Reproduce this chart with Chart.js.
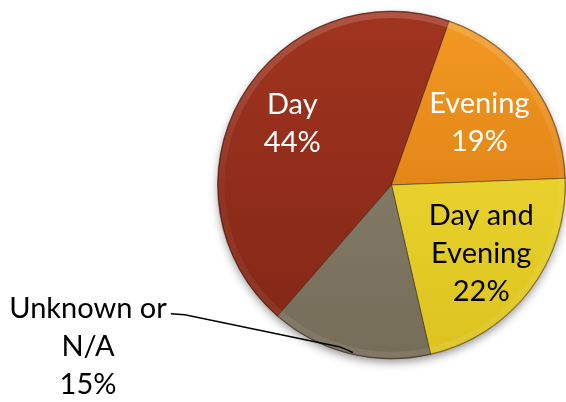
<!DOCTYPE html>
<html>
<head>
<meta charset="utf-8">
<script src="https://cdn.jsdelivr.net/npm/chart.js@4/dist/chart.umd.min.js"></script>
<style>
  html, body { margin: 0; padding: 0; background: #fff; }
  #wrap { width: 566px; height: 402px; position: relative; }
</style>
</head>
<body>
<div id="wrap"><canvas id="pie"></canvas></div>
<script>
// Data
const categories = ['Day', 'Evening', 'Day and Evening', 'Unknown or N/A'];
const shares = [44, 19, 22, 15];
const labelLines = [['Day'], ['Evening'], ['Day and', 'Evening'], ['Unknown or', 'N/A']];

// Look
const topColors = ['#a0341f', '#f39a22', '#f4e03a', '#8d8571'];
const bottomColors = ['#812616', '#d2720f', '#dcc21e', '#766d59'];
const textColors = ['#ffffff', '#ffffff', '#000000', '#000000'];
const FONT = '29px Lato';
const LINE_H = 38;

function sliceFill(ctx) {
    const chart = ctx.chart;
    const area = chart.chartArea;
    const i = ctx.dataIndex;
    if (!area) return topColors[i];
    const g = chart.ctx.createLinearGradient(0, area.top, 0, area.bottom);
    g.addColorStop(0, topColors[i]);
    g.addColorStop(1, bottomColors[i]);
    return g;
}

// soft shadow under the pie
const shadowPlugin = {
    id: 'shadow',
    beforeDatasetsDraw(chart) {
        const arc = chart.getDatasetMeta(0).data[0];
        if (!arc) return;
        const c = chart.ctx;
        c.save();
        c.shadowColor = 'rgba(0,0,0,0.45)';
        c.shadowBlur = 10;
        c.shadowOffsetY = 4;
        c.beginPath();
        c.arc(arc.x, arc.y, arc.outerRadius - 1, 0, Math.PI * 2);
        c.fillStyle = '#888';
        c.fill();
        c.restore();
    }
};

// rim bevel + labels
const labelPlugin = {
    id: 'labels',
    afterDatasetsDraw(chart) {
        const arcs = chart.getDatasetMeta(0).data;
        const c = chart.ctx;
        const cx = arcs[0].x, cy = arcs[0].y, R = arcs[0].outerRadius;

        c.save();
        c.beginPath();
        c.arc(cx, cy, R, 0, Math.PI * 2);
        c.clip();
        const g = c.createLinearGradient(0, cy - R, 0, cy + R);
        g.addColorStop(0, 'rgba(255,255,255,0.16)');
        g.addColorStop(0.5, 'rgba(255,255,255,0.03)');
        g.addColorStop(1, 'rgba(255,255,255,0.08)');
        c.strokeStyle = g;
        c.lineWidth = 6;
        c.beginPath();
        c.arc(cx, cy, R - 4, 0, Math.PI * 2);
        c.stroke();
        c.strokeStyle = 'rgba(0,0,0,0.22)';
        c.lineWidth = 2;
        c.beginPath();
        c.arc(cx, cy, R, 0, Math.PI * 2);
        c.stroke();
        c.restore();

        c.save();
        c.font = FONT;
        c.textAlign = 'center';
        c.textBaseline = 'alphabetic';
        const inside = [[-6, -8, 0.62], [1, 1, 0.62], [4, 2.5, 0.62]];
        arcs.forEach((arc, i) => {
            const mid = (arc.startAngle + arc.endAngle) / 2;
            const lines = labelLines[i].concat([shares[i] + '%']);
            let bx, by;
            if (i < 3) {
                const [nx, ny, f] = inside[i];
                bx = cx + Math.cos(mid) * R * f + nx;
                by = cy + Math.sin(mid) * R * f + ny;
            } else {
                // outside label with leader line
                const a = arc.startAngle + (arc.endAngle - arc.startAngle) * 0.48;
                const ex = cx + Math.cos(a) * (R - 2);
                const ey = cy + Math.sin(a) * (R - 2);
                bx = ex - 265;
                by = ey - 7;
                const w = c.measureText(lines[0]).width;
                const firstBase = by - (lines.length - 1) * LINE_H / 2 + 10;
                const sx = bx + w / 2 + 4;
                const sy = firstBase - 4;
                c.strokeStyle = '#000';
                c.lineWidth = 1.5;
                c.beginPath();
                c.moveTo(sx, sy);
                c.lineTo(sx + 14, sy + 1);
                c.lineTo(ex - 14, ey - 6);
                c.quadraticCurveTo(ex - 6, ey - 3, ex, ey);
                c.stroke();
            }
            c.fillStyle = textColors[i];
            const first = by - (lines.length - 1) * LINE_H / 2 + 10;
            lines.forEach((t, k) => c.fillText(t, bx, first + k * LINE_H));
        });
        c.restore();
    }
};

new Chart(document.getElementById('pie'), {
    type: 'pie',
    data: {
        labels: categories,
        datasets: [{
            data: shares,
            backgroundColor: sliceFill,
            borderColor: 'rgba(50,25,10,0.45)',
            borderWidth: 1
        }]
    },
    options: {
        responsive: true,
        maintainAspectRatio: false,
        animation: false,
        rotation: -139,
        layout: { padding: { left: 217, right: 0, top: 10, bottom: 42 } },
        plugins: {
            legend: { display: false },
            tooltip: { enabled: false }
        }
    },
    plugins: [shadowPlugin, labelPlugin]
});
</script>
</body>
</html>
